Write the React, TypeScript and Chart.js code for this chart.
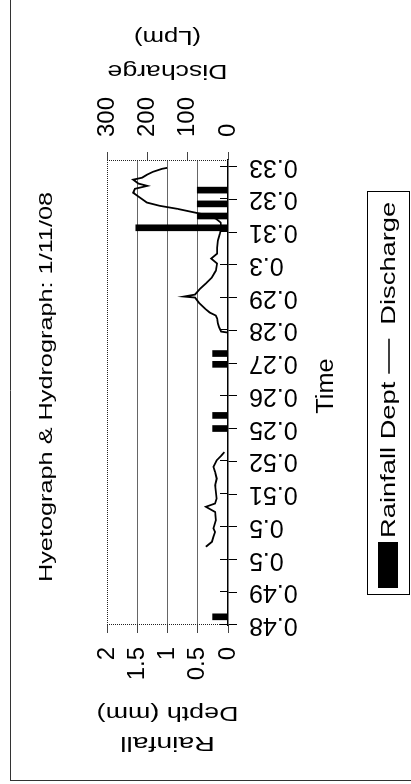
import React, { useEffect, useRef } from "react";
import { Chart, registerables } from "chart.js";

Chart.register(...registerables);

const FONT = "'Liberation Sans', Arial, Helvetica, sans-serif";

const chartTitle = "Hyetograph & Hydrograph: 1/11/08";
const xTitle = "Time";
const rainTitleLines = ["Rainfall", "Depth (mm)"];
const flowTitleLines = ["Discharge", "(Lpm)"];

// x-axis tick labels (one per time-axis division)
const timeLabels = ["0.48", "0.49", "0.5", "0.5", "0.51", "0.52", "0.25", "0.26", "0.27", "0.28", "0.29", "0.3", "0.31", "0.32", "0.33"];

// Rainfall bars: position along time axis (in axis divisions) and depth (mm)
const rainTimes = [0.25, 6.0, 6.4, 7.96, 8.29, 12.13, 12.49, 12.86, 13.28];
const rainDepths = [0.254, 0.254, 0.254, 0.254, 0.254, 1.524, 0.508, 0.508, 0.508];

// Discharge line: position along time axis and discharge (Lpm); null = gap
const flowTimes = [
  2.39, 2.54, 2.69, 2.84, 2.95, 3.2, 3.45, 3.61, 3.71, 3.86, 4.27, 4.47, 4.67, 4.83, 5.03, 5.18, 5.28,
  7.0,
  8.93, 8.96, 9.09, 9.21, 9.36, 9.45, 9.54, 9.66, 9.84, 10.0, 10.03, 10.09, 10.27, 10.43, 10.61, 10.82,
  11.04, 11.19, 11.34, 11.52, 11.74, 11.95, 12.1, 12.29, 12.41, 12.53, 12.71, 12.8, 12.9, 13.05, 13.2,
  13.32, 13.41, 13.48, 13.6, 13.66, 13.75, 13.84, 13.93, 13.96,
];
const flowValues = [
  55, 40, 36, 32, 36, 30, 32, 55, 32, 28, 32, 28, 32, 36, 28, 16, 9,
  null,
  0, 17, 22, 25, 27, 30, 45, 57, 72, 82, 109, 82, 69, 55, 40, 30,
  27, 42, 27, 27, 25, 20, 17, 18, 30, 57, 126, 169, 201, 218, 235,
  231, 200, 222, 235, 213, 201, 186, 164, 151,
];

const rainTicks = [0, 0.5, 1, 1.5, 2];
const flowTicks = [0, 100, 200, 300];

const W = 784;
const H = 411;

function sText(ctx: any, text: string, x: number, y: number, size: number, sx: number, align: string, baseline: string, rot = 0) {
  ctx.save();
  ctx.translate(x, y);
  if (rot) ctx.rotate(rot);
  ctx.scale(sx, 1);
  ctx.font = `${size}px ${FONT}`;
  ctx.textAlign = align;
  ctx.textBaseline = baseline;
  ctx.fillText(text, 0, 0);
  ctx.restore();
}

const decor = {
  id: "decor",
  afterDraw(chart: any) {
    const { ctx, chartArea: ca } = chart;
    const xs = chart.scales.x;
    ctx.save();
    // page frame
    ctx.strokeStyle = "#333";
    ctx.lineWidth = 1;
    ctx.beginPath();
    ctx.moveTo(3, 10.5);
    ctx.lineTo(W, 10.5);
    ctx.moveTo(3.5, 10);
    ctx.lineTo(3.5, H);
    ctx.stroke();
    // dotted plot-area edges
    ctx.setLineDash([1, 1]);
    ctx.strokeStyle = "#222";
    ctx.beginPath();
    ctx.moveTo(ca.left, ca.top + 0.5);
    ctx.lineTo(ca.right, ca.top + 0.5);
    ctx.moveTo(ca.left + 0.5, ca.top);
    ctx.lineTo(ca.left + 0.5, ca.bottom);
    ctx.moveTo(ca.right - 0.5, ca.top);
    ctx.lineTo(ca.right - 0.5, ca.bottom);
    ctx.stroke();
    ctx.setLineDash([]);
    // inner half of the cross ticks on time axis
    ctx.strokeStyle = "#000";
    ctx.beginPath();
    for (let i = 0; i < timeLabels.length; i++) {
      const u = Math.round(xs.getPixelForValue(i)) + 0.5;
      ctx.moveTo(u, ca.bottom - 8);
      ctx.lineTo(u, ca.bottom);
    }
    ctx.stroke();

    ctx.fillStyle = "#000";
    sText(ctx, chartTitle, 397, 52, 19, 1.33, "center", "alphabetic");
    sText(ctx, xTitle, 398, 333, 23, 1.1, "center", "alphabetic");

    const cy = (ca.top + ca.bottom) / 2;
    const R = -Math.PI / 2;
    sText(ctx, rainTitleLines[0], 41, cy, 21, 1.35, "center", "middle", R);
    sText(ctx, rainTitleLines[1], 71, cy, 21, 1.28, "center", "middle", R);
    sText(ctx, flowTitleLines[0], 713, cy, 21, 1.27, "center", "middle", R);
    sText(ctx, flowTitleLines[1], 747, cy, 21, 1.22, "center", "middle", R);

    // legend
    const ds = chart.data.datasets;
    const boxL = 189, boxR = 592, boxT = 367, boxB = 409;
    ctx.strokeStyle = "#000";
    ctx.lineWidth = 1;
    ctx.strokeRect(boxL + 0.5, boxT + 0.5, boxR - boxL, boxB - boxT);
    const fs = 21, sx = 1.3;
    ctx.font = `${fs}px ${FONT}`;
    const t1 = ds[0].label, t2 = ds[1].label;
    const w1 = ctx.measureText(t1).width * sx;
    let u = 196;
    ctx.fillStyle = ds[0].backgroundColor;
    ctx.fillRect(u, 378, 46, 20);
    u += 46 + 4;
    ctx.fillStyle = "#000";
    sText(ctx, t1, u, 395, fs, sx, "left", "alphabetic");
    u += w1 + 8;
    ctx.strokeStyle = ds[1].borderColor;
    ctx.lineWidth = 1.5;
    ctx.beginPath();
    ctx.moveTo(u, 389);
    ctx.lineTo(u + 35, 389);
    ctx.stroke();
    u += 35 + 14;
    sText(ctx, t2, u, 395, fs, sx, "left", "alphabetic");
    ctx.restore();
  },
};

export default function App() {
  const ref = useRef<HTMLCanvasElement | null>(null);
  useEffect(() => {
    const canvas = ref.current;
    if (!canvas) return;
    const tickFont = { family: FONT, size: 24 };
    const chart = new Chart(canvas, {
      type: "bar",
      data: {
        datasets: [
          {
            type: "bar",
            label: "Rainfall Dept",
            data: rainTimes.map((t, i) => ({ x: t, y: rainDepths[i] })),
            backgroundColor: "#000",
            borderWidth: 0,
            barThickness: 6,
            yAxisID: "y",
            order: 2,
          } as any,
          {
            type: "line",
            label: "Discharge",
            data: flowTimes.map((t, i) => ({ x: t, y: flowValues[i] })),
            borderColor: "#000",
            backgroundColor: "#000",
            borderWidth: 1.8,
            pointRadius: 0,
            tension: 0,
            spanGaps: false,
            yAxisID: "y2",
            order: 1,
          } as any,
        ],
      },
      options: {
        animation: false,
        responsive: false,
        devicePixelRatio: 1,
        layout: { padding: { top: 107, left: 0, right: 0, bottom: 0 } },
        plugins: {
          legend: { display: false },
          title: { display: false },
          tooltip: { enabled: false },
        },
        scales: {
          x: {
            type: "linear",
            min: 0,
            max: 14.2,
            offset: false,
            afterBuildTicks: (s: any) => {
              s.ticks = timeLabels.map((_, i) => ({ value: i }));
            },
            afterFit: (s: any) => {
              s.height = H - 228;
            },
            ticks: {
              autoSkip: false,
              minRotation: 90,
              maxRotation: 90,
              padding: 12,
              color: "#000",
              font: { family: FONT, size: 25 },
              callback: (v: any) => timeLabels[Math.round(Number(v))] ?? "",
            },
            grid: { drawOnChartArea: false, offset: false, tickLength: 9, color: "#000", lineWidth: 1 },
            border: { display: true, color: "#000", width: 1.5 },
          },
          y: {
            position: "left",
            min: 0,
            max: 2,
            afterBuildTicks: (s: any) => {
              s.ticks = rainTicks.map((v) => ({ value: v }));
            },
            afterFit: (s: any) => {
              s.width = 159;
            },
            ticks: { autoSkip: false, padding: 14, color: "#000", font: tickFont, callback: (v: any) => String(v) },
            grid: {
              color: (c: any) => (c.tick && (c.tick.value === 0 || c.tick.value === 2) ? "rgba(0,0,0,0)" : "#666"),
              tickColor: "#444",
              tickLength: 8,
              lineWidth: 1,
            },
            border: { display: false },
          },
          y2: {
            position: "right",
            min: 0,
            max: 300,
            afterBuildTicks: (s: any) => {
              s.ticks = flowTicks.map((v) => ({ value: v }));
            },
            afterFit: (s: any) => {
              s.width = W - 624;
            },
            ticks: { autoSkip: false, padding: 15, color: "#000", font: tickFont, callback: (v: any) => String(v) },
            grid: { drawOnChartArea: false, tickLength: 8, color: "#444" },
            border: { display: false },
          },
        },
      } as any,
      plugins: [decor],
    });
    return () => chart.destroy();
  }, []);

  return (
    <div style={{ position: "fixed", left: 0, top: 0, width: 411, height: 784, overflow: "hidden", background: "#fff" }}>
      <div
        style={{
          position: "absolute",
          left: 0,
          top: 0,
          width: W,
          height: H,
          transformOrigin: "0 0",
          transform: `translateY(${W}px) rotate(-90deg)`,
        }}
      >
        <canvas ref={ref} width={W} height={H} style={{ width: W, height: H, display: "block" }} />
      </div>
    </div>
  );
}
